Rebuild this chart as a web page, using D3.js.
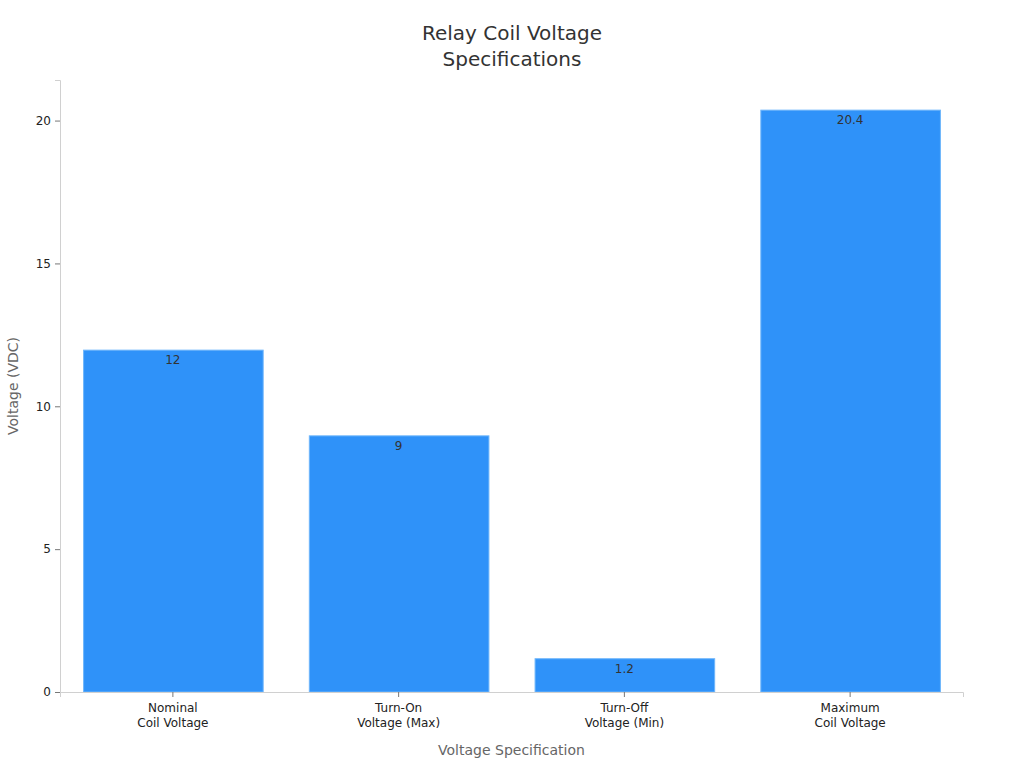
<!DOCTYPE html>
<html>
<head>
<meta charset="utf-8">
<script src="https://cdn.jsdelivr.net/npm/d3@7"></script>
<style>
  body { margin: 0; background: #fff; font-family: "DejaVu Sans", sans-serif; }
</style>
</head>
<body>
<svg id="chart" width="1024" height="768"></svg>
<script>
// chart data
const categories = [
  ["Nominal", "Coil Voltage"],
  ["Turn-On", "Voltage (Max)"],
  ["Turn-Off", "Voltage (Min)"],
  ["Maximum", "Coil Voltage"]
];
const values = [12, 9, 1.2, 20.4];
const valueLabels = ["12", "9", "1.2", "20.4"];
const yTicks = [0, 5, 10, 15, 20];

const width = 1024, height = 768;
const margin = { top: 80, right: 61, bottom: 76, left: 60 };
const innerWidth = width - margin.left - margin.right;
const innerHeight = height - margin.top - margin.bottom;

const svg = d3.select("#chart");

// title, two lines
["Relay Coil Voltage", "Specifications"].forEach((t, i) => {
  svg.append("text")
    .attr("x", width / 2)
    .attr("y", 40 + i * 26)
    .attr("text-anchor", "middle")
    .attr("font-size", 20)
    .attr("fill", "#333")
    .text(t);
});

const g = svg.append("g")
  .attr("transform", `translate(${margin.left},${margin.top})`);

const idx = categories.map((d, i) => i);

const x = d3.scaleBand()
  .domain(idx)
  .range([0, innerWidth])
  .paddingInner(0.2)
  .paddingOuter(0.1);

const y = d3.scaleLinear()
  .domain([0, d3.max(values) * 1.05])
  .range([innerHeight, 0]);

// bars
g.selectAll("rect.bar")
  .data(values)
  .join("rect")
  .attr("class", "bar")
  .attr("x", (d, i) => x(i) + 1)
  .attr("y", d => y(d) + 1)
  .attr("width", x.bandwidth() - 1)
  .attr("height", d => innerHeight - y(d) - 1)
  .attr("fill", "#2f92f9")
  .attr("stroke", "#6fb6fb")
  .attr("stroke-width", 1);

// value labels
g.selectAll("text.val")
  .data(values)
  .join("text")
  .attr("class", "val")
  .attr("x", (d, i) => x(i) + x.bandwidth() / 2)
  .attr("y", d => y(d) + 15)
  .attr("text-anchor", "middle")
  .attr("font-size", 12)
  .attr("fill", "#333")
  .text((d, i) => valueLabels[i]);

// y axis
const yAxis = g.append("g")
  .call(d3.axisLeft(y).tickValues(yTicks).tickSize(5).tickPadding(4));
yAxis.select(".domain").attr("stroke", "#d0d0d0");
yAxis.selectAll(".tick line").attr("stroke", "#777");
yAxis.selectAll(".tick text")
  .attr("font-size", 12)
  .attr("font-family", "DejaVu Sans")
  .attr("fill", "#222");

// x axis (labels drawn separately, two lines each)
const xAxis = g.append("g")
  .attr("transform", `translate(0,${innerHeight})`)
  .call(d3.axisBottom(x).tickSize(5).tickFormat(""));
xAxis.select(".domain").attr("stroke", "#d0d0d0");
xAxis.selectAll(".tick line").attr("stroke", "#777");
xAxis.selectAll(".tick text").remove();

categories.forEach((lines, i) => {
  lines.forEach((t, j) => {
    g.append("text")
      .attr("x", x(i) + x.bandwidth() / 2)
      .attr("y", innerHeight + 20 + j * 15)
      .attr("text-anchor", "middle")
      .attr("font-size", 12)
      .attr("fill", "#222")
      .text(t);
  });
});

// axis titles
svg.append("text")
  .attr("x", margin.left + innerWidth / 2)
  .attr("y", 755)
  .attr("text-anchor", "middle")
  .attr("font-size", 14)
  .attr("fill", "#666")
  .text("Voltage Specification");

svg.append("text")
  .attr("transform", `translate(18,${margin.top + innerHeight / 2}) rotate(-90)`)
  .attr("text-anchor", "middle")
  .attr("font-size", 14)
  .attr("fill", "#666")
  .text("Voltage (VDC)");
</script>
</body>
</html>
